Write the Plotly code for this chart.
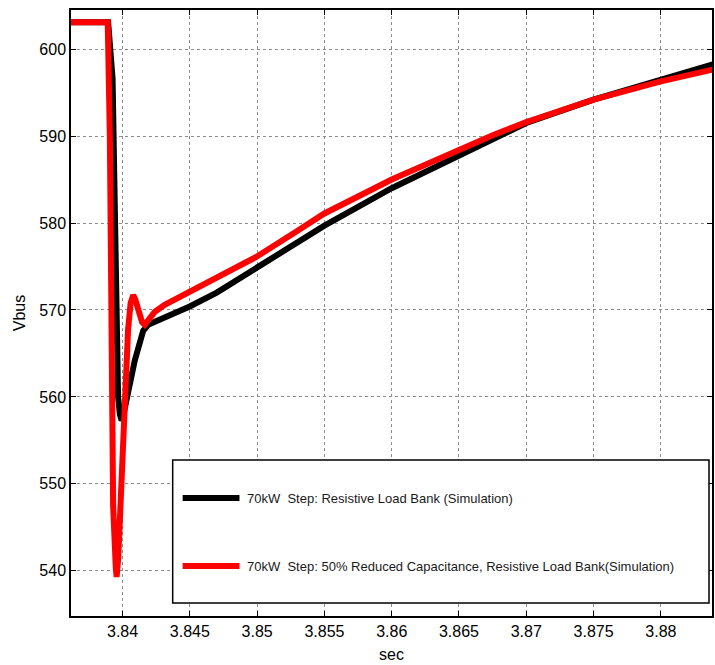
import plotly.graph_objects as go

# Black: 70kW Step, Resistive Load Bank (Simulation)
t_black = [3.8360, 3.83893, 3.83926, 3.83936, 3.83943, 3.83950, 3.83956, 3.83967,
           3.83980, 3.83993, 3.84005, 3.84017, 3.84041, 3.84091, 3.84153, 3.84190,
           3.84313, 3.84450, 3.84499, 3.84700, 3.84993, 3.85313, 3.8550, 3.8600,
           3.8650, 3.8680, 3.8700, 3.8750, 3.8800, 3.8840]
v_black = [603.1, 603.1, 596.6, 586.4, 578.8, 572.3, 565.0, 560.0,
           558.0, 557.3, 557.8, 558.9, 560.5, 564.2, 567.6, 568.3,
           569.1, 570.0, 570.4, 572.0, 574.8, 577.9, 579.7, 584.0,
           587.8, 590.0, 591.5, 594.2, 596.5, 598.3]

# Red: 70kW Step, 50% Reduced Capacitance, Resistive Load Bank (Simulation)
t_red = [3.8360, 3.83890, 3.83906, 3.83919, 3.83925, 3.83930, 3.83950, 3.83956,
         3.83968, 3.83980, 3.83993, 3.84004, 3.84017, 3.84030, 3.84041, 3.84060,
         3.84079, 3.84095, 3.84120, 3.84145, 3.84165, 3.84200, 3.84240, 3.84313,
         3.84400, 3.84499, 3.84700, 3.84993, 3.85289, 3.8550, 3.8600, 3.8650,
         3.8675, 3.8700, 3.8750, 3.8800, 3.8840]
v_red = [603.1, 603.1, 589.6, 572.3, 560.0, 547.5, 540.3, 539.3,
         541.5, 545.8, 553.5, 557.3, 560.0, 564.0, 567.7, 570.8,
         571.7, 571.2, 569.8, 568.6, 568.3, 569.0, 569.8, 570.6,
         571.3, 572.1, 573.6, 576.1, 579.0, 581.1, 585.0, 588.5,
         590.1, 591.6, 594.2, 596.3, 597.7]

x_ticks = [3.84, 3.845, 3.85, 3.855, 3.86, 3.865, 3.87, 3.875, 3.88]
x_tick_labels = ["3.84", "3.845", "3.85", "3.855", "3.86", "3.865", "3.87", "3.875", "3.88"]
y_ticks = [540, 550, 560, 570, 580, 590, 600]

legend_labels = ["70kW  Step: Resistive Load Bank (Simulation)",
                 "70kW  Step: 50% Reduced Capacitance, Resistive Load Bank(Simulation)"]
colors = ["#000000", "#ff0000"]

fig = go.Figure()
fig.add_trace(go.Scatter(x=t_black, y=v_black, mode="lines", name=legend_labels[0],
                         line=dict(color=colors[0], width=6), showlegend=False))
fig.add_trace(go.Scatter(x=t_red, y=v_red, mode="lines", name=legend_labels[1],
                         line=dict(color=colors[1], width=6), showlegend=False))

W, H = 715, 665
ml, mr, mt, mb = 71, 1, 10, 49
pw, ph = W - ml - mr, H - mt - mb

def px_to_paper_x(px):
    return (px - ml) / pw

def px_to_paper_y(py):
    return 1 - (py - mt) / ph

# legend box
fig.add_shape(type="rect", xref="paper", yref="paper",
              x0=px_to_paper_x(173), x1=px_to_paper_x(711),
              y0=px_to_paper_y(603), y1=px_to_paper_y(460),
              line=dict(color="black", width=1.5), fillcolor="white", layer="above")
rows_y = [498, 566]
for i, lbl in enumerate(legend_labels):
    fig.add_shape(type="line", xref="paper", yref="paper",
                  x0=px_to_paper_x(183), x1=px_to_paper_x(240),
                  y0=px_to_paper_y(rows_y[i]), y1=px_to_paper_y(rows_y[i]),
                  line=dict(color=colors[i], width=6), layer="above")
    fig.add_annotation(x=px_to_paper_x(246), y=px_to_paper_y(rows_y[i]), xref="paper", yref="paper",
                       text=lbl, showarrow=False, xanchor="left", yanchor="middle",
                       font=dict(family="Liberation Sans Narrow, Liberation Sans, Arial, sans-serif",
                                 size=13, color="#1a1a1a"))

axis_font = dict(family="Liberation Sans, Arial, sans-serif", size=16, color="black")
fig.update_layout(
    width=W, height=H,
    margin=dict(l=ml, r=mr, t=mt, b=mb),
    paper_bgcolor="white", plot_bgcolor="white",
    font=axis_font,
    xaxis=dict(range=[3.83617, 3.8838], tickvals=x_ticks, ticktext=x_tick_labels,
               showgrid=True, gridcolor="#8c8c8c", griddash="dot", gridwidth=1,
               showline=True, linecolor="black", linewidth=1.5, mirror="ticks",
               ticks="inside", ticklen=5, tickcolor="black", zeroline=False,
               title=dict(text="sec", font=axis_font, standoff=10), tickfont=axis_font),
    yaxis=dict(range=[534.8, 604.5], tickvals=y_ticks,
               showgrid=True, gridcolor="#8c8c8c", griddash="dot", gridwidth=1,
               showline=True, linecolor="black", linewidth=1.5, mirror="ticks",
               ticks="inside", ticklen=5, tickcolor="black", zeroline=False,
               title=dict(text="Vbus", font=axis_font, standoff=10), tickfont=axis_font),
)

fig.write_html("out.html")
